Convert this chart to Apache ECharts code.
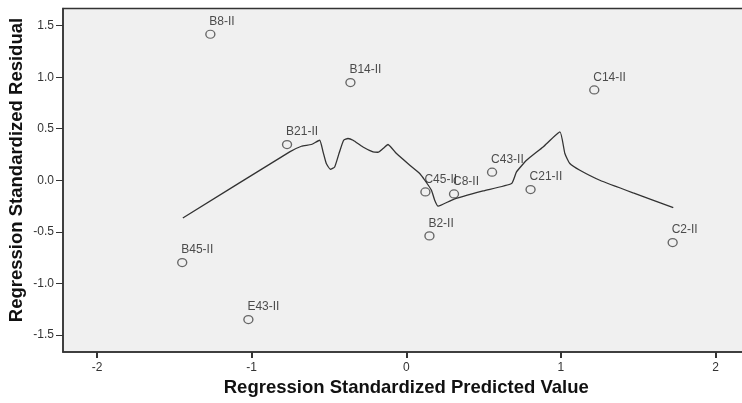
<!DOCTYPE html>
<html>
<head>
<meta charset="utf-8">
<script src="https://cdn.jsdelivr.net/npm/echarts@6/dist/echarts.min.js"></script>
<style>
  html, body { margin: 0; padding: 0; background: #ffffff; overflow: hidden; }
  /* the plot frame runs past the right edge of the page, so its right side is cut off */
  #chart { width: 750px; height: 403px; }
</style>
</head>
<body>
<div id="chart"></div>
<script>
// Case labels with their standardized predicted values and residuals
const caseLabels = ['B8-II', 'B14-II', 'B21-II', 'B45-II', 'E43-II', 'C14-II',
                    'C43-II', 'C45-II', 'C8-II', 'C21-II', 'B2-II', 'C2-II'];
const predicted  = [-1.267, -0.361, -0.771, -1.449, -1.021, 1.216,
                    0.555, 0.124, 0.309, 0.804, 0.150, 1.723];
const residual   = [1.417, 0.948, 0.346, -0.799, -1.352, 0.877,
                    0.078, -0.113, -0.133, -0.090, -0.540, -0.605];

// Loess fit line through the residuals
const fitX = [-1.445, -0.754, -0.678, -0.614, -0.560, -0.538, -0.517, -0.491, -0.463,
              -0.435, -0.405, -0.377, -0.344, -0.280, -0.215, -0.183, -0.150, -0.118,
              -0.063, 0.023, 0.087, 0.120, 0.163, 0.184, 0.206, 0.303, 0.497, 0.681,
              0.713, 0.778, 0.885, 0.994, 1.026, 1.058, 1.123, 1.252, 1.468, 1.727];
const fitY = [-0.366, 0.275, 0.330, 0.347, 0.388, 0.275, 0.162, 0.107, 0.129,
              0.259, 0.388, 0.405, 0.388, 0.323, 0.275, 0.272, 0.308, 0.347,
              0.259, 0.146, 0.065, 0.000, -0.097, -0.194, -0.252, -0.187, -0.104, -0.032,
              0.081, 0.194, 0.323, 0.469, 0.259, 0.162, 0.097, 0.000, -0.123, -0.265];

const xTicks = [-2, -1, 0, 1, 2];
const yTicks = [-1.5, -1.0, -0.5, 0.0, 0.5, 1.0, 1.5];

const xTitle = 'Regression Standardized Predicted Value';
const yTitle = 'Regression Standardized Residual';

const FONT = '"Liberation Sans", Arial, sans-serif';

const chart = echarts.init(document.getElementById('chart'), null, { renderer: 'canvas' });

const points = predicted.map((x, i) => ({ value: [x, residual[i]], name: caseLabels[i] }));
const fitLine = fitX.map((x, i) => [x, fitY[i]]);

chart.setOption({
  animation: false,
  backgroundColor: '#ffffff',
  grid: {
    show: true,
    left: 63,
    right: 0.5,
    top: 8.5,
    bottom: 51,
    backgroundColor: '#f0f0f0',
    borderColor: '#333333',
    borderWidth: 1.5
  },
  graphic: [{
    type: 'text',
    rotation: Math.PI / 2,
    x: 17,
    y: 170,
    style: {
      text: yTitle,
      fontSize: 18.5,
      fontWeight: 'bold',
      fontFamily: FONT,
      fill: '#111111',
      align: 'center',
      verticalAlign: 'middle'
    }
  }],
  xAxis: {
    type: 'value',
    min: -2.22,
    max: 2.22,
    interval: 1,
    axisLine: { show: true, onZero: false, lineStyle: { color: '#333333', width: 1.5 } },
    axisTick: {
      show: true, inside: false, length: 6,
      lineStyle: { color: '#333333', width: 2 },
      customValues: xTicks
    },
    axisLabel: {
      show: true, margin: 10, color: '#333333', fontSize: 12, fontFamily: FONT,
      customValues: xTicks,
      formatter: v => String(v)
    },
    splitLine: { show: false },
    name: xTitle,
    nameLocation: 'middle',
    nameGap: 21,
    nameTextStyle: { fontSize: 18.5, fontWeight: 'bold', color: '#111111', fontFamily: FONT,
                     verticalAlign: 'top' }
  },
  yAxis: {
    type: 'value',
    min: -1.667,
    max: 1.667,
    axisLine: { show: true, onZero: false, lineStyle: { color: '#333333', width: 1.5 } },
    axisTick: {
      show: true, inside: false, length: 7,
      lineStyle: { color: '#333333', width: 1 },
      customValues: yTicks
    },
    axisLabel: {
      show: true, margin: 9, color: '#333333', fontSize: 12, fontFamily: FONT,
      customValues: yTicks,
      formatter: v => v.toFixed(1)
    },
    splitLine: { show: false }
  },
  series: [
    {
      type: 'line',
      data: fitLine,
      showSymbol: false,
      smooth: 0.15,
      lineStyle: { color: '#333333', width: 1.3 },
      z: 2
    },
    {
      type: 'scatter',
      data: points,
      symbol: 'circle',
      symbolSize: [9, 8],
      itemStyle: { color: 'rgba(0,0,0,0)', borderColor: '#444444', borderWidth: 1.3 },
      label: {
        show: true,
        position: 'top',
        align: 'left',
        distance: 2,
        offset: [-1, 0],
        formatter: p => p.name,
        color: '#222222',
        fontSize: 12,
        fontFamily: FONT
      },
      z: 3
    }
  ]
});
</script>
</body>
</html>
